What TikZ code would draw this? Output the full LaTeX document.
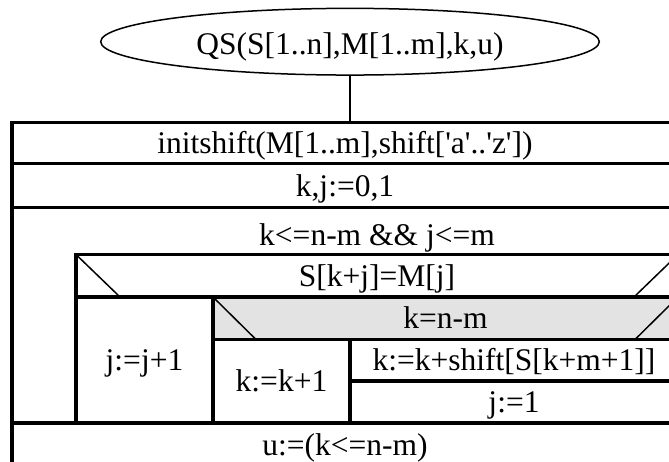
\documentclass[tikz,border=0pt]{standalone}
\usepackage{fontspec}
\setmainfont{Liberation Serif}
\usetikzlibrary{shapes.geometric}

\newcommand{\sq}{\textquotesingle}

\tikzset{
  base/.style={inner sep=0pt, outer sep=0pt, font=\fontsize{31.5}{36}\selectfont,
               text height=21pt, text depth=0pt, align=center},
  cell/.style={base, draw, line width=3.2pt, rectangle},
  txt/.style={base},
  cond/.style={cell},
  shaded/.style={fill=black!11},
  diag/.style={line width=1.5pt},
  start/.style={base, draw, ellipse, line width=1.5pt},
  link/.style={line width=1.2pt},
}

\begin{document}
\begin{tikzpicture}[x=1pt, y=-1pt]
  \useasboundingbox (0,0) rectangle (669,461);
  \clip (0,0) rectangle (669,461);

  % procedure head
  \node[start, minimum width=498.6pt, minimum height=66.7pt] (qs) at (350,41.7)
    {\raisebox{-2pt}{QS(S[1..n],M[1..m],k,u)}};

  % outer sequence
  \node[cell, minimum width=666pt, minimum height=40.5pt]  (init) at (345,143)
    {initshift(M[1..m],shift[\sq a\sq..\sq z\sq])};
  \node[cell, minimum width=666pt, minimum height=44.5pt]  (kj)   at (345,185.5) {k,j:=0,1};
  \node[cell, minimum width=666pt, minimum height=215.5pt] (loop) at (345,315.25) {};
  \node[txt] (loopcond) at (377,234.5) {k<=n-m \&\& j<=m};
  \node[cell, minimum width=666pt, minimum height=44pt]    (res)  at (345,445) {u:=(k<=n-m)};

  % loop body: outer condition
  \node[cond, minimum width=602pt, minimum height=42.5pt] (c1) at (377,275.75) {S[k+j]=M[j]};
  \draw[diag] (c1.north west) -- ([xshift=44pt]c1.south west);
  \draw[diag] (c1.north east) -- ([xshift=-44pt]c1.south east);

  % true branch
  \node[cell, minimum width=137pt, minimum height=126pt] (jinc) at (144.5,360) {j:=j+1};

  % false branch: inner condition
  \node[cond, shaded, minimum width=465pt, minimum height=42.5pt] (c2) at (445.5,318.25) {k=n-m};
  \draw[diag] (c2.north west) -- ([xshift=43pt]c2.south west);
  \draw[diag] (c2.north east) -- ([xshift=-43pt]c2.south east);

  \node[cell, minimum width=137pt, minimum height=83.5pt] (kinc) at (281.5,381.25) {k:=k+1};
  \node[cell, minimum width=328pt, minimum height=41.5pt] (kshift) at (514,360.25) {k:=k+shift[S[k+m+1]]};
  \node[cell, minimum width=328pt, minimum height=42pt]   (jone)   at (514,402) {j:=1};

  % connector from head to body
  \draw[link] (qs.south) -- (qs.south |- init.north);
\end{tikzpicture}
\end{document}
